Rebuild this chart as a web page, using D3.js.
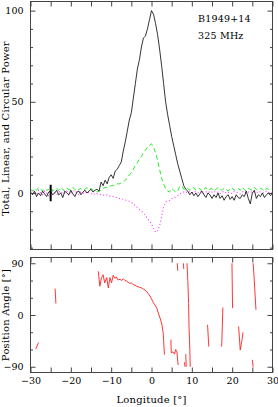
<!DOCTYPE html>
<html><head><meta charset="utf-8">
<script src="https://cdn.jsdelivr.net/npm/d3@7"></script>
<style>body{margin:0;background:#fff}svg{display:block}</style>
</head><body><svg id="c" width="278" height="407"></svg>
<script>
// ---- data ----
const lonStart = -30, lonStep = 0.5;
const totalI = [
 0.5,-1,1,-2,0,-1.5,1,-0.5,-2,0.5,
 1,-1,0,1.5,-1,0,-2.5,1,0,-1,
 1.5,-0.5,-2,0.5,1,-1,0.5,1.5,0,1,
 2,0.5,1.5,2,1,6,4,7,5,8.5,
 10,8,12,13,15,17,23,28,34,40,
 44,52,60,68,73,80,85,86,90,95,
 100,98,93,87,79,70,60,50,43,37,
 31,26,21,16,12,8,4,2,1,-1,
 0.5,-1.5,0,-2,-0.5,1,-1,-2.5,0,-1,
 -3,-1,-2.5,0,-3,-1.5,-4,-2,-1,-3.5,
 -2,-4,-1,-2.5,-3,-1,-2,1,-3,-6,
 0,1.5,-3,-1,-2,0,-2.5,-1,0,-1.5,
 0];
const linearL = [
 2,1,2.5,1.5,3,2,1,2.5,1.5,2,
 3,1,2,2.5,1.5,3,2,1,2.5,2,
 1.5,3,2,1,2,2.5,1.5,2,3,2,
 2.5,1.5,1,0.5,1,1.5,2.5,3,3,3.5,
 4,4,4.5,5,5,5.5,6,7,8,10,
 11,13,15,16.5,19,20,22,23.5,25,26,
 27,25,22,18,13,8,5,2.5,1,0.5,
 2.5,1.5,0.5,1,3.5,4,2,1.5,2.5,1.5,
 2,3,1.5,2,2.5,1,2,3,1.5,2,
 2.5,1,2,3,2,1.5,2.5,2,1,2.5,
 3,1.5,2,2.5,1.5,3,2,1,2.5,2,
 1.5,3,2,1.5,2.5,2,1,2.5,2,1.5,
 2];
const circularV = [
 1,2,0.5,-1,1.5,0,-1,1,0,-1.5,
 0.5,1.5,0,-1,0.5,1,-0.5,0,1,-1,
 0,0.5,1.5,0,-1,0.5,0,-0.5,1,0,
 -0.5,0,-1,-0.5,-0.5,-1,-1,-1.5,-1,-1.5,
 -2,-2,-2.5,-2.5,-3,-3,-3.5,-4,-4,-4.5,
 -5,-6,-7,-8,-9,-10,-11,-12.5,-14,-15.5,
 -17,-19.5,-21.5,-21,-18,-13,-8,-5,-4.5,-4,
 -3,-3,-2,-1.5,-0.5,0,0.5,0,1,0.5,
 0,1,0.5,0,1,0.5,-0.5,0.5,1,0,
 0.5,1,0,0.5,-0.5,0.5,1,0,0.5,-0.5,
 0,1,0.5,0,-0.5,0.5,1,0,0.5,0,
 1,0.5,0,1,0.5,0,0.5,1,0,0.5,
 0];
const noiseBarLon = -25, noiseBarSigma = 4.5;

// position angle: null separates unconnected pieces
const paLon = [
 -28.7,-28.0,null,
 -23.9,-23.7,null,
 -13.2,-12.8,-12.4,-12.0,-11.6,-11.1,-10.7,-10.3,-9.9,-9.5,-9.1,-8.7,-8.3,-7.8,-7.4,-7.0,-6.6,-6.2,-5.8,-5.4,-5.0,-4.5,-4.1,-3.7,-3.3,-2.9,-2.4,-2.0,-1.6,-1.2,-0.8,-0.4,0.0,0.5,0.9,1.3,1.7,2.1,2.5,2.9,3.2,null,
 4.8,4.9,5.3,5.7,6.0,6.3,6.6,null,
 6.4,6.5,null,
 7.9,8.0,null,
 8.2,8.3,null,
 8.5,8.6,null,
 8.8,9.0,9.2,9.3,9.5,9.6,null,
 13.9,14.2,null,
 17.7,17.4,null,
 19.95,20.0,20.1,null,
 21.6,22.0,22.4,22.7,null,
 25.2,25.4,25.9,null,
 25.0,25.2];
const paAngle = [
 -59,-48,null,
 46,20,null,
 76,50,65,70,56,65,47,65,56,69,64,66,61,62,60,63,60,59,57,55,56,53,52,50,49,48,47,45,43,41,37,33,28,21,17,12,3.5,-5,-14,-31,-69,null,
 -43,-66,-64,-68,-60,-64,-87,null,
 90,77,null,
 90,80,null,
 -82,-90,null,
 -68,-90,null,
 90,60,20,-20,-60,-90,null,
 -17,-55,null,
 13,-55,null,
 90,65,12,null,
 -20,-61,-45,-30,null,
 90,70,9,null,
 -78,-90];

const xTickMajor = [-30,-20,-10,0,10,20,30];
const xTickMinor = [-25,-15,-5,5,15,25];
const powerTickMajor = [0,50,100];
const powerTickMinor = [-30,-20,-10,10,20,30,40,60,70,80,90];
const paTickMajor = [-90,0,90];
const paTickMinor = [-60,-30,30,60];
const sourceName = "B1949+14", freqLabel = "325 MHz";
const yLabelTop = "Total, Linear, and Circular Power";
const yLabelBottom = "Position Angle [°]";
const xLabel = "Longitude [°]";

// ---- layout ----
const font = "DejaVu Serif";
const fs = 9.5;
const L = 30.5, R = 272.5;
const T1 = 1.5, B1 = 249.5, T2 = 257.5, B2 = 372.5;
const frameColor = "#444";

const svg = d3.select("#c");
const x = d3.scaleLinear().domain([-30, 30]).range([L, R]);
const yP = d3.scaleLinear().domain([-31, 105]).range([B1, T1]);
const yA = d3.scaleLinear().domain([-100, 100]).range([B2, T2]);

function frame(top, bottom, yScale, majors, minors, xlabels) {
  const g = svg.append("g");
  const axes = [];
  axes.push(g.append("g").attr("transform", `translate(${L},0)`)
    .call(d3.axisLeft(yScale).tickValues(majors).tickSizeInner(-5).tickSizeOuter(0).tickPadding(7)));
  axes.push(g.append("g").attr("transform", `translate(${L},0)`)
    .call(d3.axisLeft(yScale).tickValues(minors).tickSizeInner(-2.5).tickSizeOuter(0).tickFormat("")));
  axes.push(g.append("g").attr("transform", `translate(${R},0)`)
    .call(d3.axisRight(yScale).tickValues(majors).tickSizeInner(-5).tickSizeOuter(0).tickFormat("")));
  axes.push(g.append("g").attr("transform", `translate(${R},0)`)
    .call(d3.axisRight(yScale).tickValues(minors).tickSizeInner(-2.5).tickSizeOuter(0).tickFormat("")));
  axes.push(g.append("g").attr("transform", `translate(0,${top})`)
    .call(d3.axisTop(x).tickValues(xTickMajor).tickSizeInner(-5).tickSizeOuter(0).tickFormat("")));
  axes.push(g.append("g").attr("transform", `translate(0,${top})`)
    .call(d3.axisTop(x).tickValues(xTickMinor).tickSizeInner(-5).tickSizeOuter(0).tickFormat("")));
  axes.push(g.append("g").attr("transform", `translate(0,${bottom})`)
    .call(d3.axisBottom(x).tickValues(xTickMajor).tickSizeInner(-5).tickSizeOuter(0).tickPadding(5)
      .tickFormat(xlabels ? (d => String(d).replace("-", "\u2212")) : "")));
  axes.push(g.append("g").attr("transform", `translate(0,${bottom})`)
    .call(d3.axisBottom(x).tickValues(xTickMinor).tickSizeInner(-5).tickSizeOuter(0).tickFormat("")));
  axes.forEach(a => {
    a.select(".domain").remove();
    a.selectAll("line").attr("stroke", frameColor);
    a.selectAll("text").attr("font-family", font).attr("font-size", fs).attr("fill", "#000");
  });
  axes[0].selectAll("text").text(d => String(d).replace("-", "\u2212"));
  g.append("rect").attr("x", L).attr("y", top).attr("width", R - L).attr("height", bottom - top)
    .attr("fill", "none").attr("stroke", frameColor).attr("stroke-width", 1);
}

const defs = svg.append("defs");
defs.append("clipPath").attr("id", "clipTop").append("rect")
  .attr("x", L).attr("y", T1).attr("width", R - L).attr("height", B1 - T1);
defs.append("clipPath").attr("id", "clipBot").append("rect")
  .attr("x", L).attr("y", T2).attr("width", R - L).attr("height", B2 - T2);

// ---- top panel ----
const lonOf = i => lonStart + i * lonStep;
const lineP = d3.line().x((d, i) => x(lonOf(i))).y(d => yP(d));
const gTop = svg.append("g").attr("clip-path", "url(#clipTop)");
gTop.append("path").datum(circularV).attr("d", lineP)
  .attr("fill", "none").attr("stroke", "#ff33ff").attr("stroke-width", 1.1).attr("stroke-dasharray", "1,2.4");
gTop.append("path").datum(linearL).attr("d", lineP)
  .attr("fill", "none").attr("stroke", "#22ee22").attr("stroke-width", 1).attr("stroke-dasharray", "4.5,3");
gTop.append("path").datum(totalI).attr("d", lineP)
  .attr("fill", "none").attr("stroke", "#000").attr("stroke-width", 0.8);
gTop.append("line")
  .attr("x1", x(noiseBarLon)).attr("x2", x(noiseBarLon))
  .attr("y1", yP(noiseBarSigma)).attr("y2", yP(-noiseBarSigma))
  .attr("stroke", "#000").attr("stroke-width", 2);

frame(T1, B1, yP, powerTickMajor, powerTickMinor, false);

svg.append("text").attr("x", 198).attr("y", 22).attr("font-family", font).attr("font-size", fs)
  .attr("letter-spacing", 0.2).text(sourceName);
svg.append("text").attr("x", 198).attr("y", 38.5).attr("font-family", font).attr("font-size", fs)
  .attr("letter-spacing", 0.2).text(freqLabel);
svg.append("text").attr("transform", `translate(9,${(T1 + B1) / 2 + 3}) rotate(-90)`)
  .attr("text-anchor", "middle").attr("font-family", font).attr("font-size", 10)
  .attr("letter-spacing", 0.2).text(yLabelTop);

// ---- bottom panel ----
const paData = paLon.map((l, i) => [l, paAngle[i]]);
const lineA = d3.line().defined(d => d[0] !== null && d[1] !== null)
  .x(d => x(d[0])).y(d => yA(d[1]));
svg.append("g").attr("clip-path", "url(#clipBot)")
  .append("path").datum(paData).attr("d", lineA)
  .attr("fill", "none").attr("stroke", "#ff2020").attr("stroke-width", 0.9);

frame(T2, B2, yA, paTickMajor, paTickMinor, true);

svg.append("text").attr("transform", `translate(9,${(T2 + B2) / 2}) rotate(-90)`)
  .attr("text-anchor", "middle").attr("font-family", font).attr("font-size", 10)
  .attr("letter-spacing", 0.2).text(yLabelBottom);
svg.append("text").attr("x", (L + R) / 2).attr("y", 403).attr("text-anchor", "middle")
  .attr("font-family", font).attr("font-size", 10).attr("letter-spacing", 0.2).text(xLabel);
</script></body></html>
